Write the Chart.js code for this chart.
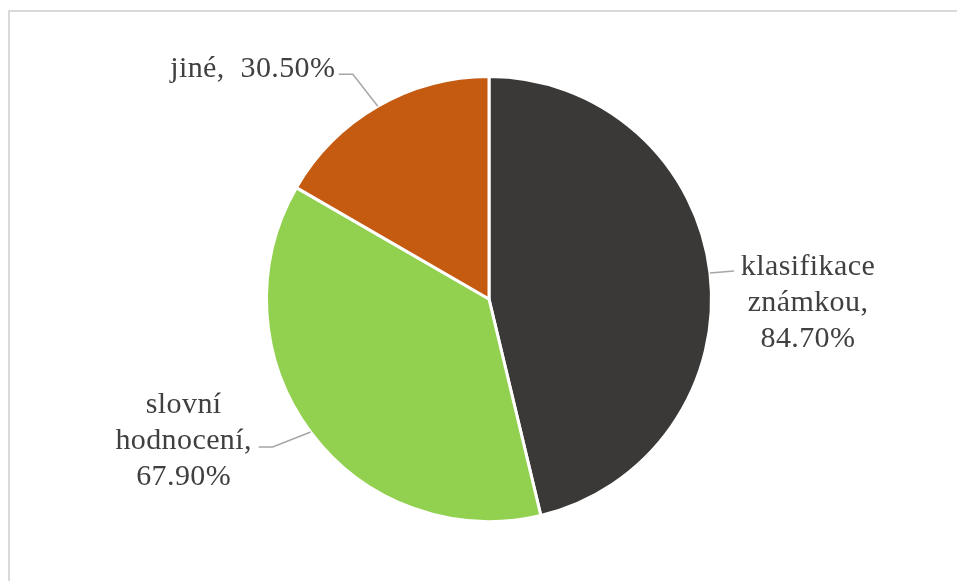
<!DOCTYPE html>
<html>
<head>
<meta charset="utf-8">
<script src="https://cdn.jsdelivr.net/npm/chart.js@4"></script>
<style>
  html, body { margin: 0; padding: 0; background: #fff; overflow: hidden; }
  #frame {
    position: absolute; left: 8px; top: 10px; width: 1000px; height: 700px;
    border: 2px solid #d9d9d9; box-sizing: border-box;
  }
  #chart { position: absolute; left: 0; top: 0; }
</style>
</head>
<body>
<div id="frame"></div>
<canvas id="chart" width="957" height="581"></canvas>
<script>
const categories = ["klasifikace známkou", "slovní hodnocení", "jiné"];
const values = [84.7, 67.9, 30.5];
const colors = ["#3a3937", "#92d050", "#c55a11"];

// label text lines per slice
const labelLines = [
    ["klasifikace", "známkou,", values[0].toFixed(2) + "%"],
    ["slovní", "hodnocení,", values[1].toFixed(2) + "%"],
    ["jiné,  " + values[2].toFixed(2) + "%"],
];
// leader line: elbow offset and label centre offset from the slice edge
const leaders = [
    { elbow: [24, -2], label: [98, 30] },
    { elbow: [-38, 15], label: [-127, 9] },
    { elbow: [-25, -32], label: [-125, -37] },
];

const labelPlugin = {
    id: "sliceLabels",
    afterDatasetsDraw(chart) {
        const ctx = chart.ctx;
        const meta = chart.getDatasetMeta(0);
        ctx.save();
        ctx.font = '30px "Liberation Serif", "Times New Roman", serif';
        ctx.letterSpacing = "0.4px";
        ctx.fillStyle = "#404040";
        ctx.textAlign = "center";
        ctx.textBaseline = "middle";
        meta.data.forEach((arc, i) => {
            const mid = (arc.startAngle + arc.endAngle) / 2;
            const ex = arc.x + Math.cos(mid) * arc.outerRadius;
            const ey = arc.y + Math.sin(mid) * arc.outerRadius;
            const l = leaders[i];
            const bx = ex + l.elbow[0], by = ey + l.elbow[1];
            // short horizontal tail toward the text
            const tx = bx + (l.elbow[0] < 0 ? -14 : 0);

            ctx.strokeStyle = "#a6a6a6";
            ctx.lineWidth = 1.5;
            ctx.beginPath();
            ctx.moveTo(ex, ey);
            ctx.lineTo(bx, by);
            ctx.lineTo(tx, by);
            ctx.stroke();

            const lines = labelLines[i];
            const lh = 36;
            const cx = ex + l.label[0], cy = ey + l.label[1];
            lines.forEach((t, k) => {
                ctx.fillText(t, cx, cy + (k - (lines.length - 1) / 2) * lh);
            });
        });
        ctx.restore();
    },
};

new Chart(document.getElementById("chart"), {
    type: "pie",
    data: {
        labels: categories,
        datasets: [{
            data: values,
            backgroundColor: colors,
            borderColor: "#ffffff",
            borderWidth: 3,
        }],
    },
    options: {
        responsive: false,
        animation: false,
        layout: { padding: { top: 75, bottom: 58, left: 21, right: 0 } },
        plugins: {
            legend: { display: false },
            tooltip: { enabled: false },
        },
    },
    plugins: [labelPlugin],
});
</script>
</body>
</html>
